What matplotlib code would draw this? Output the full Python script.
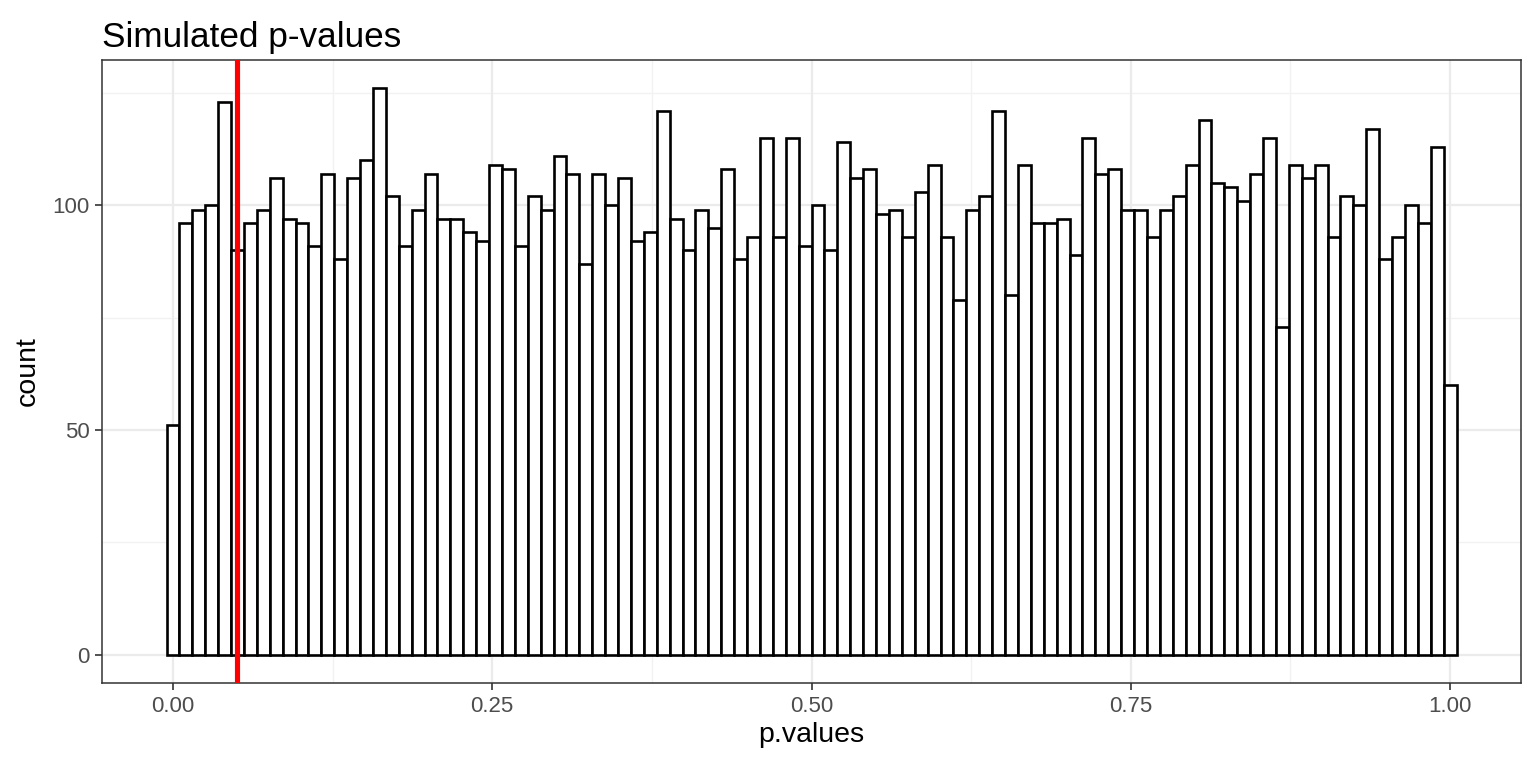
import numpy as np
import matplotlib
matplotlib.use('Agg')
import matplotlib.pyplot as plt

# Contagens do histograma (100 classes entre 0 e 1)
contagens = [51, 96, 99, 100, 123, 90, 96, 99, 106, 97,
             96, 91, 107, 88, 106, 110, 126, 102, 91, 99,
             107, 97, 97, 94, 92, 109, 108, 91, 102, 99,
             111, 107, 87, 107, 100, 106, 92, 94, 121, 97,
             90, 99, 95, 108, 88, 93, 115, 93, 115, 91,
             100, 90, 114, 106, 108, 98, 99, 93, 103, 109,
             93, 79, 99, 102, 121, 80, 109, 96, 96, 97,
             89, 115, 107, 108, 99, 99, 93, 99, 102, 109,
             119, 105, 104, 101, 107, 115, 73, 109, 106, 109,
             93, 102, 100, 117, 88, 93, 100, 96, 113, 60]
p_min, p_max = 0.0, 1.0
limite_alfa = 0.05

x_ticks = [0.0, 0.25, 0.5, 0.75, 1.0]
x_labels = ['0.00', '0.25', '0.50', '0.75', '1.00']
y_ticks = [0, 50, 100]

n_bins = len(contagens)
centros = np.linspace(p_min, p_max, n_bins)
largura = (p_max - p_min) / (n_bins - 1)

plt.rcParams['font.family'] = ['Liberation Sans', 'DejaVu Sans']

fig = plt.figure(figsize=(15.36, 7.68), dpi=100)
ax = fig.add_axes([102 / 1536, 1 - 683 / 768, (1521 - 102) / 1536, (683 - 60) / 768])

# grade estilo theme_bw
for v in [0.125, 0.375, 0.625, 0.875]:
    ax.axvline(v, color='#F2F2F2', lw=1.0, zorder=0)
for v in [25, 75, 125]:
    ax.axhline(v, color='#F2F2F2', lw=1.0, zorder=0)
for v in x_ticks:
    ax.axvline(v, color='#EBEBEB', lw=1.6, zorder=0)
for v in y_ticks:
    ax.axhline(v, color='#EBEBEB', lw=1.6, zorder=0)

ax.bar(centros, contagens, width=largura, color='white', edgecolor='black',
       linewidth=1.9, zorder=2)
ax.axvline(limite_alfa, color='red', lw=3.7, zorder=3)

x_lo = p_min - largura / 2
x_hi = p_max + largura / 2
dx = (x_hi - x_lo) * 0.05
ax.set_xlim(x_lo - dx, x_hi + dx)
y_top = max(contagens)
ax.set_ylim(-y_top * 0.05, y_top * 1.05)

ax.set_xticks(x_ticks)
ax.set_xticklabels(x_labels)
ax.set_yticks(y_ticks)
ax.tick_params(axis='both', colors='#333333', labelcolor='#4D4D4D',
               labelsize=16, length=5, width=1.2, pad=4)
for s in ax.spines.values():
    s.set_color('#333333')
    s.set_linewidth(1.1)

ax.set_xlabel('p.values', fontsize=20.5, labelpad=4)
ax.set_ylabel('count', fontsize=20.5, labelpad=8)
ax.set_title('Simulated p-values', loc='left', fontsize=25.3, pad=9)

fig.savefig('out.png', dpi=100)
